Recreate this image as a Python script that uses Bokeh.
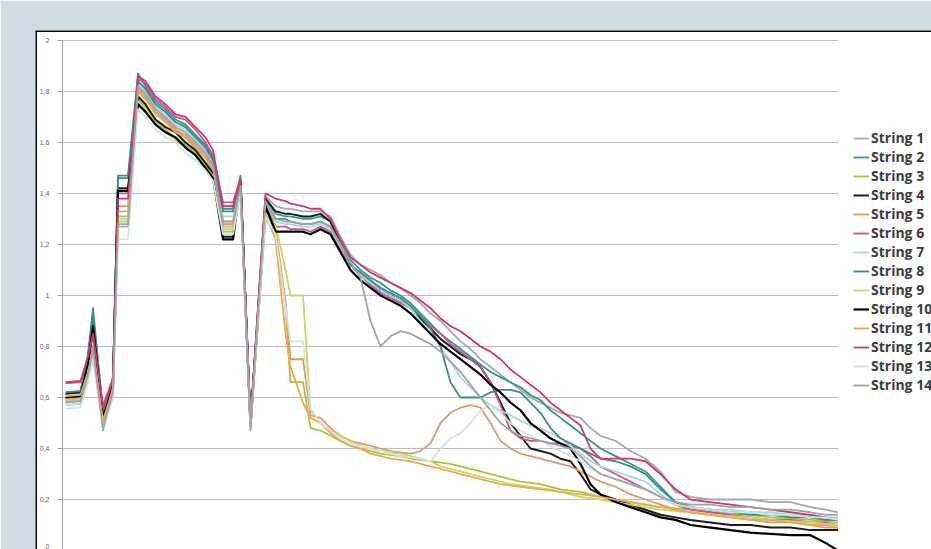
from bokeh.plotting import figure
from bokeh.models import Range1d, Legend, LegendItem, Span, ColumnDataSource, Grid
from bokeh.core.properties import value
from bokeh.embed import file_html
from bokeh.resources import INLINE

# sample index (time axis, not labelled in the original)
t = [0, 3, 4.5, 5.5, 7.5, 8.5, 9.5, 10.5, 12.5, 14.5,
     16, 18, 20, 22, 24, 26, 28, 29.5, 31.5, 33.5,
     35, 37, 40, 42, 44, 45, 47.5, 49, 51, 53,
     55, 57, 59, 61, 63, 65, 67, 69, 71, 73,
     75, 77, 79, 81, 83, 85, 87, 89, 91, 93,
     95, 97, 99, 101, 103, 105, 107, 110, 113, 116,
     119, 122, 125, 129, 133, 137, 141, 145, 149, 152, 154.5]

s1 = [0.585, 0.59, 0.70, 0.80, 0.47, 0.55, 0.62, 1.27, 1.27, 1.80,
      1.77, 1.72, 1.69, 1.65, 1.62, 1.58, 1.54, 1.49, 1.29, 1.29,
      1.42, 0.47, 1.39, 1.35, 1.34, 1.34, 1.33, 1.33, 1.33, 1.31,
      1.23, 1.16, 1.12, 1.10, 1.08, 1.05, 1.03, 1.00, 0.97, 0.93,
      0.90, 0.86, 0.82, 0.79, 0.75, 0.72, 0.69, 0.66, 0.63, 0.60,
      0.58, 0.56, 0.54, 0.53, 0.52, 0.48, 0.45, 0.43, 0.39, 0.36,
      0.31, 0.23, 0.21, 0.20, 0.20, 0.20, 0.19, 0.19, 0.17, 0.16, 0.15]
s2 = [0.62, 0.625, 0.76, 0.92, 0.55, 0.60, 0.68, 1.47, 1.47, 1.87,
      1.82, 1.76, 1.73, 1.69, 1.67, 1.63, 1.59, 1.54, 1.34, 1.34,
      1.47, 0.50, 1.38, 1.32, 1.31, 1.31, 1.30, 1.30, 1.31, 1.29,
      1.21, 1.14, 1.10, 1.07, 1.05, 1.02, 1.00, 0.97, 0.93, 0.89,
      0.85, 0.82, 0.79, 0.76, 0.73, 0.70, 0.68, 0.66, 0.64, 0.61,
      0.59, 0.55, 0.52, 0.49, 0.46, 0.43, 0.40, 0.37, 0.34, 0.31,
      0.25, 0.19, 0.17, 0.16, 0.15, 0.15, 0.14, 0.14, 0.13, 0.12, 0.12]
s3 = [0.60, 0.605, 0.70, 0.78, 0.52, 0.57, 0.64, 1.31, 1.31, 1.77,
      1.74, 1.68, 1.65, 1.62, 1.59, 1.56, 1.51, 1.47, 1.25, 1.25,
      1.42, 0.49, 1.30, 1.25, 0.95, 0.66, 0.66, 0.48, 0.47, 0.45,
      0.43, 0.41, 0.40, 0.39, 0.38, 0.375, 0.37, 0.36, 0.355, 0.35,
      0.345, 0.34, 0.33, 0.32, 0.31, 0.30, 0.29, 0.28, 0.27, 0.265,
      0.26, 0.25, 0.24, 0.235, 0.23, 0.22, 0.21, 0.20, 0.19, 0.18,
      0.17, 0.165, 0.16, 0.15, 0.145, 0.14, 0.13, 0.125, 0.12, 0.115, 0.11]
s4 = [0.615, 0.62, 0.74, 0.87, 0.53, 0.58, 0.66, 1.42, 1.42, 1.78,
      1.75, 1.69, 1.66, 1.64, 1.60, 1.57, 1.52, 1.48, 1.23, 1.23,
      1.45, 0.50, 1.38, 1.33, 1.32, 1.32, 1.31, 1.31, 1.32, 1.29,
      1.20, 1.12, 1.08, 1.05, 1.02, 1.00, 0.98, 0.95, 0.91, 0.87,
      0.83, 0.80, 0.77, 0.75, 0.72, 0.66, 0.58, 0.50, 0.45, 0.40,
      0.39, 0.38, 0.36, 0.35, 0.30, 0.24, 0.22, 0.20, 0.18, 0.16,
      0.14, 0.13, 0.12, 0.11, 0.10, 0.10, 0.09, 0.09, 0.08, 0.08, 0.08]
s5 = [0.595, 0.60, 0.70, 0.80, 0.50, 0.56, 0.63, 1.35, 1.35, 1.81,
      1.78, 1.72, 1.69, 1.65, 1.63, 1.59, 1.55, 1.50, 1.29, 1.29,
      1.44, 0.49, 1.33, 1.26, 0.98, 0.75, 0.75, 0.53, 0.52, 0.48,
      0.45, 0.43, 0.42, 0.41, 0.40, 0.39, 0.385, 0.38, 0.39, 0.42,
      0.50, 0.54, 0.56, 0.57, 0.56, 0.50, 0.43, 0.40, 0.38, 0.37,
      0.36, 0.35, 0.34, 0.33, 0.31, 0.29, 0.27, 0.25, 0.22, 0.20,
      0.18, 0.16, 0.15, 0.14, 0.13, 0.12, 0.11, 0.11, 0.10, 0.09, 0.09]
s6 = [0.655, 0.66, 0.75, 0.84, 0.57, 0.62, 0.68, 1.40, 1.40, 1.85,
      1.83, 1.77, 1.74, 1.70, 1.69, 1.65, 1.60, 1.55, 1.365, 1.365,
      1.46, 0.51, 1.36, 1.27, 1.27, 1.26, 1.26, 1.25, 1.27, 1.25,
      1.18, 1.12, 1.08, 1.04, 1.01, 0.99, 0.97, 0.95, 0.92, 0.88,
      0.85, 0.81, 0.78, 0.75, 0.72, 0.66, 0.57, 0.47, 0.44, 0.43,
      0.43, 0.42, 0.42, 0.41, 0.40, 0.37, 0.33, 0.30, 0.27, 0.24,
      0.21, 0.18, 0.16, 0.15, 0.14, 0.13, 0.12, 0.12, 0.11, 0.11, 0.10]
s7 = [0.57, 0.575, 0.68, 0.77, 0.51, 0.56, 0.62, 1.30, 1.30, 1.83,
      1.80, 1.74, 1.71, 1.67, 1.65, 1.61, 1.57, 1.52, 1.31, 1.31,
      1.44, 0.49, 1.36, 1.29, 1.28, 1.28, 1.27, 1.27, 1.28, 1.26,
      1.19, 1.12, 1.08, 1.05, 1.02, 1.00, 0.98, 0.95, 0.90, 0.85,
      0.80, 0.74, 0.68, 0.64, 0.60, 0.57, 0.55, 0.53, 0.51, 0.49,
      0.48, 0.46, 0.44, 0.41, 0.38, 0.35, 0.33, 0.31, 0.29, 0.27,
      0.22, 0.18, 0.17, 0.16, 0.16, 0.15, 0.15, 0.14, 0.14, 0.13, 0.13]
s8 = [0.62, 0.625, 0.77, 0.95, 0.54, 0.60, 0.67, 1.46, 1.46, 1.84,
      1.81, 1.75, 1.72, 1.68, 1.66, 1.62, 1.58, 1.53, 1.33, 1.33,
      1.46, 0.50, 1.37, 1.30, 1.30, 1.29, 1.28, 1.28, 1.29, 1.27,
      1.20, 1.12, 1.09, 1.06, 1.03, 1.01, 0.99, 0.96, 0.92, 0.87,
      0.80, 0.66, 0.60, 0.60, 0.60, 0.62, 0.63, 0.63, 0.62, 0.58,
      0.54, 0.48, 0.44, 0.42, 0.40, 0.38, 0.36, 0.35, 0.33, 0.30,
      0.24, 0.19, 0.17, 0.16, 0.15, 0.14, 0.14, 0.13, 0.13, 0.12, 0.12]
s9 = [0.59, 0.595, 0.68, 0.76, 0.49, 0.55, 0.62, 1.29, 1.29, 1.76,
      1.73, 1.67, 1.64, 1.61, 1.58, 1.55, 1.50, 1.47, 1.26, 1.26,
      1.41, 0.48, 1.32, 1.28, 1.10, 1.00, 1.00, 0.55, 0.50, 0.47,
      0.45, 0.43, 0.41, 0.40, 0.39, 0.385, 0.38, 0.37, 0.36, 0.35,
      0.33, 0.32, 0.31, 0.30, 0.29, 0.28, 0.27, 0.26, 0.255, 0.25,
      0.245, 0.24, 0.23, 0.22, 0.21, 0.205, 0.20, 0.19, 0.18, 0.17,
      0.16, 0.155, 0.15, 0.14, 0.135, 0.13, 0.12, 0.115, 0.11, 0.105, 0.10]
s10 = [0.60, 0.605, 0.73, 0.88, 0.52, 0.58, 0.65, 1.41, 1.41, 1.75,
       1.72, 1.67, 1.64, 1.62, 1.58, 1.55, 1.50, 1.46, 1.22, 1.22,
       1.44, 0.49, 1.35, 1.25, 1.25, 1.25, 1.25, 1.24, 1.26, 1.24,
       1.17, 1.10, 1.06, 1.03, 1.00, 0.98, 0.96, 0.93, 0.89, 0.85,
       0.81, 0.78, 0.75, 0.72, 0.69, 0.65, 0.62, 0.58, 0.55, 0.50,
       0.47, 0.44, 0.42, 0.40, 0.34, 0.26, 0.22, 0.19, 0.17, 0.15,
       0.13, 0.12, 0.10, 0.09, 0.08, 0.07, 0.065, 0.06, 0.06, 0.03, 0.0]
s11 = [0.605, 0.61, 0.70, 0.79, 0.51, 0.57, 0.64, 1.33, 1.33, 1.80,
       1.77, 1.71, 1.68, 1.64, 1.62, 1.58, 1.54, 1.50, 1.27, 1.27,
       1.43, 0.49, 1.32, 1.22, 0.85, 0.72, 0.58, 0.52, 0.50, 0.46,
       0.43, 0.41, 0.40, 0.38, 0.37, 0.36, 0.355, 0.35, 0.34, 0.33,
       0.32, 0.31, 0.30, 0.29, 0.28, 0.27, 0.26, 0.255, 0.25, 0.245,
       0.24, 0.235, 0.23, 0.225, 0.22, 0.215, 0.21, 0.20, 0.19, 0.18,
       0.17, 0.16, 0.15, 0.14, 0.13, 0.12, 0.12, 0.11, 0.10, 0.10, 0.09]
s12 = [0.66, 0.665, 0.76, 0.85, 0.56, 0.61, 0.67, 1.38, 1.38, 1.86,
       1.84, 1.78, 1.75, 1.71, 1.70, 1.66, 1.62, 1.57, 1.35, 1.35,
       1.45, 0.51, 1.40, 1.38, 1.37, 1.36, 1.35, 1.34, 1.34, 1.30,
       1.22, 1.15, 1.12, 1.09, 1.07, 1.05, 1.03, 1.01, 0.98, 0.95,
       0.91, 0.88, 0.86, 0.83, 0.80, 0.78, 0.75, 0.71, 0.68, 0.65,
       0.62, 0.58, 0.55, 0.52, 0.49, 0.40, 0.36, 0.36, 0.36, 0.35,
       0.30, 0.24, 0.20, 0.19, 0.18, 0.17, 0.16, 0.15, 0.14, 0.13, 0.12]
s13 = [0.555, 0.56, 0.66, 0.75, 0.48, 0.54, 0.60, 1.22, 1.22, 1.73,
       1.70, 1.65, 1.62, 1.60, 1.56, 1.53, 1.49, 1.45, 1.24, 1.24,
       1.40, 0.48, 1.31, 1.24, 0.95, 0.82, 0.82, 0.56, 0.50, 0.47,
       0.44, 0.42, 0.41, 0.40, 0.39, 0.38, 0.37, 0.365, 0.36, 0.35,
       0.40, 0.44, 0.46, 0.50, 0.55, 0.57, 0.54, 0.50, 0.47, 0.45,
       0.43, 0.41, 0.39, 0.37, 0.35, 0.32, 0.30, 0.28, 0.26, 0.24,
       0.21, 0.18, 0.17, 0.16, 0.15, 0.15, 0.14, 0.14, 0.13, 0.13, 0.12]
s14 = [0.58, 0.585, 0.69, 0.79, 0.48, 0.55, 0.62, 1.28, 1.28, 1.82,
       1.79, 1.73, 1.70, 1.66, 1.64, 1.60, 1.56, 1.51, 1.28, 1.28,
       1.43, 0.48, 1.37, 1.30, 1.29, 1.29, 1.28, 1.28, 1.29, 1.27,
       1.20, 1.13, 1.07, 0.90, 0.80, 0.84, 0.86, 0.85, 0.83, 0.81,
       0.78, 0.74, 0.70, 0.65, 0.60, 0.55, 0.50, 0.47, 0.45, 0.44,
       0.43, 0.42, 0.41, 0.40, 0.37, 0.33, 0.30, 0.28, 0.26, 0.24,
       0.21, 0.19, 0.18, 0.18, 0.17, 0.17, 0.16, 0.16, 0.15, 0.14, 0.14]

names = ["String 1", "String 2", "String 3", "String 4", "String 5", "String 6", "String 7",
         "String 8", "String 9", "String 10", "String 11", "String 12", "String 13", "String 14"]
series = [s1, s2, s3, s4, s5, s6, s7, s8, s9, s10, s11, s12, s13, s14]
colors = ["#a7a7b0", "#2f9796", "#a9c23f", "#1c1c1c", "#de9a68", "#c85490", "#a6d9dc",
          "#3a8c8a", "#c6d660", "#000000", "#eda94f", "#d3366c", "#cde5e5", "#a2a2a2"]
widths = [1.8, 1.8, 1.8, 2.0, 1.8, 1.8, 1.8, 1.8, 1.8, 2.2, 1.8, 1.8, 1.8, 1.8]

y_ticks = [0.2, 0.4, 0.6, 0.8, 1.0, 1.2, 1.4, 1.6, 1.8, 2.0]
y_labels = ["0,2", "0,4", "0,6", "0,8", "1", "1,2", "1,4", "1,6", "1,8", "2"]
y_zero = [0]
y_zero_label = ["0"]

# layout (style) constants in data units of the frame
X_START, X_END = -6, 173.2
Y_START, Y_END = 0.004, 2.039
AXIS_X = -0.6
GRID_END = 154.6
TICK_X0 = -1.6
LABEL_X = -3.2

p = figure(width=931, height=549,
           x_range=Range1d(X_START, X_END), y_range=Range1d(Y_START, Y_END),
           x_axis_location=None, y_axis_location=None,
           toolbar_location=None, output_backend="svg",
           min_border_left=35, min_border_top=30, min_border_right=0, min_border_bottom=0)
p.background_fill_color = "white"
p.border_fill_color = "#cfdce3"
p.outline_line_color = None
for g in p.select(type=Grid):
    g.visible = False

all_ticks = y_zero + y_ticks
# gridlines, axis line, ticks, tick labels
p.segment(x0=[AXIS_X] * len(all_ticks), y0=all_ticks, x1=[GRID_END] * len(all_ticks), y1=all_ticks,
          line_color="#bdbdbd", line_width=1)
p.segment(x0=[TICK_X0] * len(all_ticks), y0=all_ticks, x1=[AXIS_X] * len(all_ticks), y1=all_ticks,
          line_color="#a0a0a0", line_width=1)
p.segment(x0=[AXIS_X], y0=[0], x1=[AXIS_X], y1=[2.0], line_color="#a0a0a0", line_width=1)
p.text(x=[LABEL_X] * len(y_ticks), y=y_ticks, text=y_labels,
       text_font=value("Liberation Sans"), text_font_size="7px", text_color="#666666",
       text_align="right", text_baseline="middle")
p.text(x=[LABEL_X], y=y_zero, text=y_zero_label, y_offset=-2,
       text_font=value("Liberation Sans"), text_font_size="7px", text_color="#666666",
       text_align="right", text_baseline="bottom")

items = []
for name, ys, c, w in zip(names, series, colors, widths):
    src = ColumnDataSource(dict(t=t, v=ys))
    r = p.line("t", "v", source=src, line_color=c, line_width=w, line_join="round")
    items.append(LegendItem(label=name, renderers=[r]))

legend = Legend(items=items, location=(818, 155), orientation="vertical",
                glyph_width=16, glyph_height=14, label_height=14, spacing=0,
                padding=0, margin=0, label_standoff=2,
                border_line_color=None, background_fill_alpha=0,
                label_text_font="Open Sans", label_text_font_size="14px",
                label_text_font_style="bold", label_text_color="#3c3c3c")
p.add_layout(legend)

p.add_layout(Span(location=X_START, dimension="height", line_color="black", line_width=3))
p.add_layout(Span(location=Y_END, dimension="width", line_color="black", line_width=3))

open("out.html", "w").write(file_html(p, INLINE))
